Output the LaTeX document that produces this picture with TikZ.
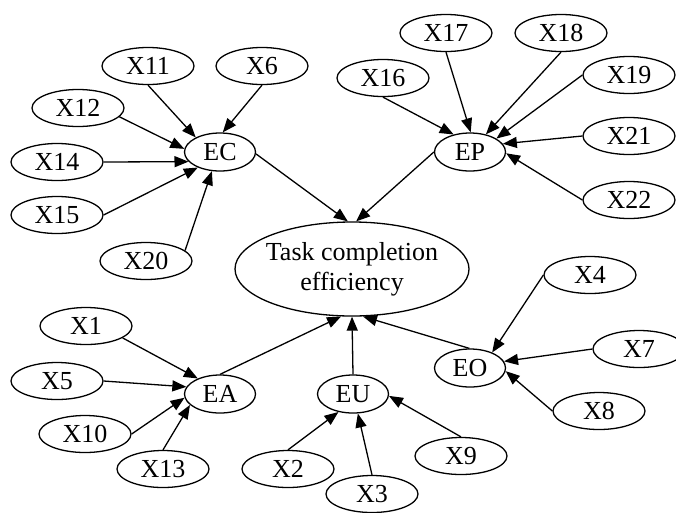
\documentclass[tikz,border=0pt]{standalone}
\usepackage{fontspec}
\setmainfont{Liberation Serif}
\usetikzlibrary{shapes.geometric,arrows.meta}
\begin{document}
\begin{tikzpicture}[x=1pt,y=-1pt,
  xnode/.style={ellipse,draw,line width=1.3pt,minimum width=92pt,minimum height=37pt,inner sep=0pt,font=\fontsize{26}{30}\selectfont},
  enode/.style={xnode,minimum width=71pt,minimum height=38pt},
  tnode/.style={xnode,minimum width=234pt,minimum height=94pt,inner xsep=-35pt,inner ysep=-10pt,align=center},
  arr/.style={line width=1.3pt,-{Triangle[length=14pt,width=11pt]}}]
\useasboundingbox (0,0) rectangle (676,512);
% EC cluster
\node[xnode] (X11) at (148,66) {X11};
\node[xnode] (X6) at (262,66) {X6};
\node[xnode] (X12) at (78,108) {X12};
\node[xnode] (X14) at (57,162) {X14};
\node[xnode] (X15) at (57,215) {X15};
\node[xnode] (X20) at (146,261) {X20};
\node[enode] (EC) at (220,152) {EC};
% EP cluster
\node[xnode] (X17) at (446,33) {X17};
\node[xnode] (X18) at (561,33) {X18};
\node[xnode] (X16) at (383,78) {X16};
\node[xnode] (X19) at (629,75) {X19};
\node[xnode] (X21) at (629,136) {X21};
\node[xnode] (X22) at (629,200) {X22};
\node[enode] (EP) at (470,152) {EP};
% Task
\node[tnode] (Task) at (352,269) {Task completion\\efficiency};
% EO cluster
\node[xnode] (X4) at (590,275) {X4};
\node[xnode] (X7) at (639,349) {X7};
\node[xnode] (X8) at (599,411) {X8};
\node[enode] (EO) at (470,368) {EO};
% EA cluster
\node[xnode] (X1) at (86,326) {X1};
\node[xnode] (X5) at (57,381) {X5};
\node[xnode] (X10) at (85,434) {X10};
\node[xnode] (X13) at (163,469) {X13};
\node[enode] (EA) at (220,394) {EA};
% EU cluster
\node[enode] (EU) at (353,394) {EU};
\node[xnode] (X2) at (288,469) {X2};
\node[xnode] (X3) at (372,494) {X3};
\node[xnode] (X9) at (461,456) {X9};
% edges to EC
\draw[arr] (X11.south) -- (EC.149);
\draw[arr] (X6.south) -- (EC.82);
\draw[arr] (X12.-12) -- (EC.175);
\draw[arr] (X14.east) -- (EC.197);
\draw[arr] (X15.east) -- (EC.215);
\draw[arr] (X20.15) -- (EC.247);
\draw[arr] (EC.-3) -- (Task.95);
% edges to EP
\draw[arr] (X16.south) -- (EP.133);
\draw[arr] (X17.south) -- (EP.88);
\draw[arr] (X18.south) -- (EP.48);
\draw[arr] (X19.west) -- (EP.27);
\draw[arr] (X21.west) -- (EP.14);
\draw[arr] (X22.west) -- (EP.-2);
\draw[arr] (EP.west) -- (Task.85);
% edges to EA
\draw[arr] (X1.-18) -- (EA.145);
\draw[arr] (X5.east) -- (EA.168);
\draw[arr] (X10.east) -- (EA.186);
\draw[arr] (X13.north) -- (EA.200);
\draw[arr] (EA.north) -- (Task.257);
% edges to EU
\draw[arr] (EU.north) -- (Task.270);
\draw[arr] (X9.north) -- (EU.-3);
\draw[arr] (X3.north) -- (EU.284);
\draw[arr] (X2.north) -- (EU.231);
% edges to EO
\draw[arr] (EO.92) -- (Task.283);
\draw[arr] (X4.west) -- (EO.35);
\draw[arr] (X7.west) -- (EO.11);
\draw[arr] (X8.west) -- (EO.-5);
\end{tikzpicture}
\end{document}
